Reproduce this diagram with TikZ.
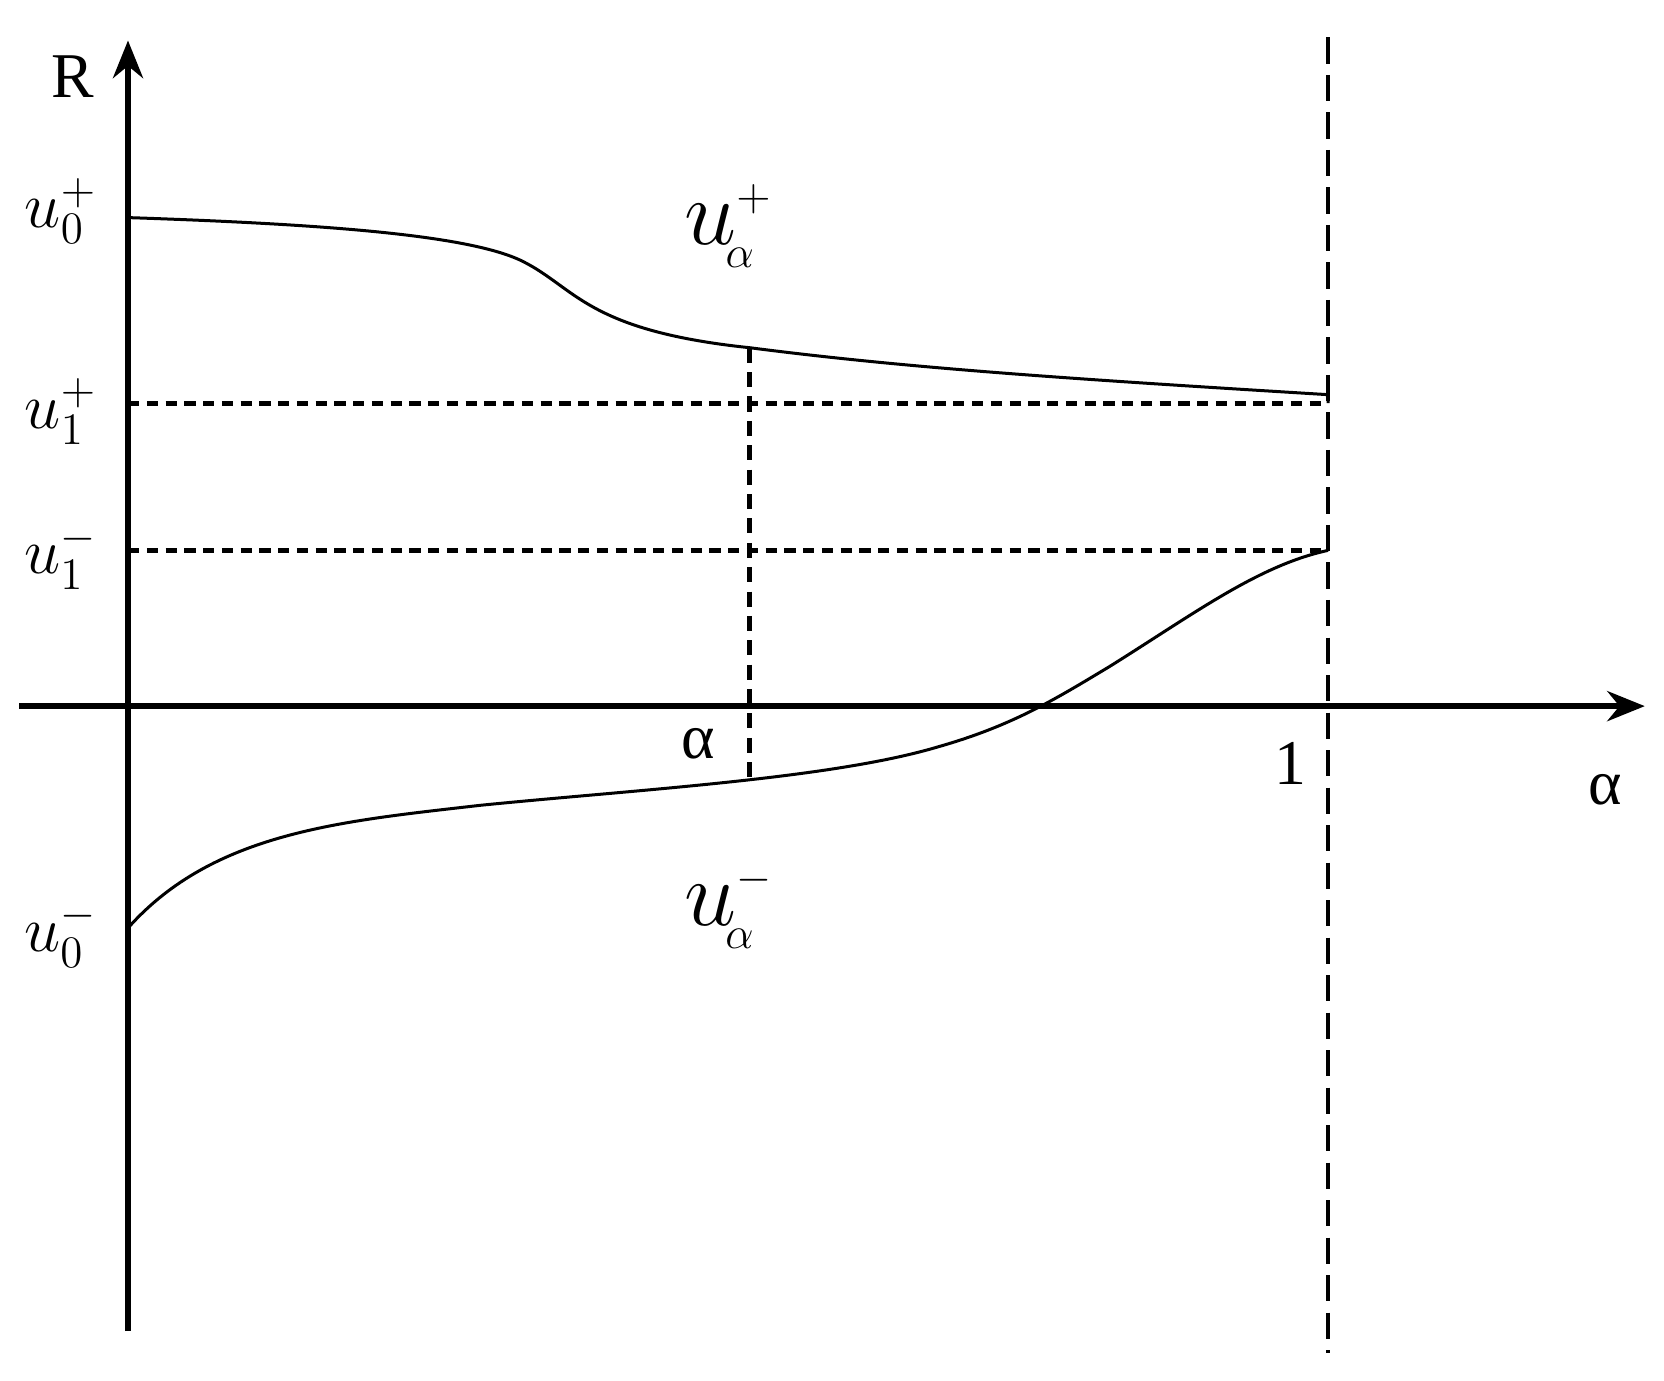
\documentclass[tikz,border=0pt]{standalone}
\usepackage{fontspec}
\setmainfont{Liberation Serif}
\usetikzlibrary{arrows.meta}
\begin{document}
\begin{tikzpicture}[x=0.01cm,y=-0.01cm,
  ax/.style={line width=1.6pt,-{Stealth[length=10pt,width=8pt]}},
  dsh/.style={line width=1.3pt,dash pattern=on 3pt off 2pt},
  crv/.style={line width=0.8pt},
  lab/.style={font=\fontsize{17}{19}\selectfont},
  big/.style={font=\fontsize{26}{28}\selectfont}]
\useasboundingbox (0,0) rectangle (1560,1294);
\coordinate (yb) at (120,1248); \coordinate (yt) at (120,38);
\coordinate (xl) at (18,662); \coordinate (xr) at (1542,662);
\coordinate (vt) at (1245,35); \coordinate (vb) at (1245,1268);
\coordinate (at) at (703,326); \coordinate (ab) at (703,728);
\coordinate (p1l) at (120,378); \coordinate (p1r) at (1245,378);
\coordinate (m1l) at (120,516); \coordinate (m1r) at (1245,516);
\draw[dsh] (p1l) -- (p1r);
\draw[dsh] (m1l) -- (m1r);
\draw[dsh,dash pattern=on 4pt off 2.5pt] (at) -- (ab);
\draw[dsh,line width=1.1pt,dash pattern=on 7pt off 3pt] (vt) -- (vb);
\draw[ax] (yb) -- (yt);
\draw[ax] (xl) -- (xr);
\draw[crv] (120,204) .. controls (300,210) and (440,220) .. (490,245)
  .. controls (540,270) and (550,310) .. (703,326)
  .. controls (850,345) and (1000,355) .. (1245,370) -- (1245,378);
\draw[crv] (120,870) .. controls (200,780) and (320,770) .. (450,755)
  .. controls (600,740) and (780,730) .. (880,700)
  .. controls (950,680) and (990,655) .. (1040,625)
  .. controls (1120,575) and (1180,530) .. (1245,516);
\node[lab] (R) at (68,72) {R};
\node[lab] (u0p) at (57,198) {$u_0^+$};
\node[lab] (u1p) at (57,386) {$u_1^+$};
\node[lab] (u1m) at (57,522) {$u_1^-$};
\node[lab] (u0m) at (57,876) {$u_0^-$};
\node[big] (uap) at (683,212) {$u^{\scriptscriptstyle +}_{\!\scriptscriptstyle\alpha}$};
\node[big] (uam) at (683,850) {$u^{\scriptscriptstyle -}_{\!\scriptscriptstyle\alpha}$};
\node[lab] (al) at (655,697) {α};
\node[lab] (one) at (1210,716) {1};
\node[lab] (ax) at (1505,740) {α};
\end{tikzpicture}
\end{document}
